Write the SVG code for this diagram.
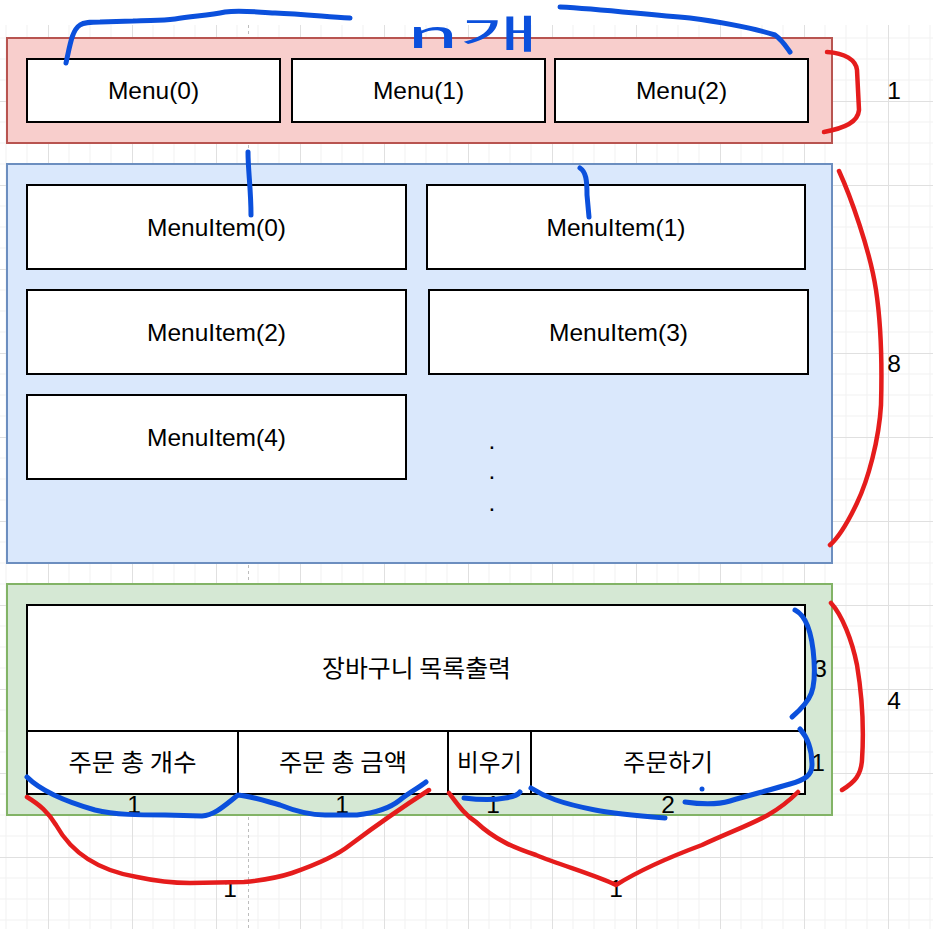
<svg xmlns="http://www.w3.org/2000/svg" width="933" height="929" viewBox="0 0 933 929">
<defs>
  <pattern id="grid" patternUnits="userSpaceOnUse" x="48" y="17" width="84" height="84">
    <path d="M21,0V84M42,0V84M63,0V84M0,21H84M0,42H84M0,63H84" stroke="#f1f1f1" stroke-width="1" fill="none"/>
    <path d="M0.5,0V84M0,0.5H84" stroke="#e0e0e0" stroke-width="1" fill="none"/>
  </pattern>
  <style>
    .box{fill:#ffffff;stroke:#000000;stroke-width:2}
    .lbl{font-family:"Liberation Sans",Arial,sans-serif;font-size:24.5px;fill:#000000;text-anchor:middle}
    .kr{font-family:"Noto Sans CJK KR","Liberation Sans",sans-serif;font-size:24px;fill:#000000;text-anchor:middle}
    .blue{fill:none;stroke:#0b50dc;stroke-width:5;stroke-linecap:round;stroke-linejoin:round}
    .red{fill:none;stroke:#e51c1c;stroke-width:4.5;stroke-linecap:round;stroke-linejoin:round}
  </style>
</defs>
<rect x="0" y="0" width="933" height="929" fill="#ffffff"/>
<rect x="0" y="25" width="933" height="904" fill="url(#grid)"/>
<line x1="248.5" y1="25" x2="248.5" y2="929" stroke="#bdbdbd" stroke-width="1" stroke-dasharray="3,3"/>

<g id="menu-container">
  <rect x="7" y="38" width="825" height="105" fill="#f8cecc" stroke="#b85450" stroke-width="2"/>
</g>
<g id="menu0"><rect class="box" x="27" y="59" width="253" height="63"/><text class="lbl" x="153.5" y="99">Menu(0)</text></g>
<g id="menu1"><rect class="box" x="292" y="59" width="253" height="63"/><text class="lbl" x="418.5" y="99">Menu(1)</text></g>
<g id="menu2"><rect class="box" x="555" y="59" width="253" height="63"/><text class="lbl" x="681.5" y="99">Menu(2)</text></g>

<g id="item-container">
  <rect x="7" y="164" width="825" height="399" fill="#dae8fc" stroke="#6c8ebf" stroke-width="2"/>
</g>
<g id="item0"><rect class="box" x="27" y="185" width="379" height="84"/><text class="lbl" x="216.5" y="235.5">MenuItem(0)</text></g>
<g id="item1"><rect class="box" x="427" y="185" width="378" height="84"/><text class="lbl" x="616" y="235.5">MenuItem(1)</text></g>
<g id="item2"><rect class="box" x="27" y="290" width="379" height="84"/><text class="lbl" x="216.5" y="340.5">MenuItem(2)</text></g>
<g id="item3"><rect class="box" x="429" y="290" width="379" height="84"/><text class="lbl" x="618.5" y="340.5">MenuItem(3)</text></g>
<g id="item4"><rect class="box" x="27" y="395" width="379" height="84"/><text class="lbl" x="216.5" y="445.5">MenuItem(4)</text></g>
<g id="dots">
  <text class="lbl" x="492" y="449">.</text>
  <text class="lbl" x="492" y="479">.</text>
  <text class="lbl" x="492" y="511">.</text>
</g>

<g id="cart-container">
  <rect x="7" y="584" width="825" height="231" fill="#d5e8d4" stroke="#82b366" stroke-width="2"/>
</g>
<g id="cart-list"><rect class="box" x="27" y="605" width="778" height="126"/><text class="kr" x="416.5" y="677" textLength="189" lengthAdjust="spacingAndGlyphs">장바구니 목록출력</text></g>
<g id="total-count"><rect class="box" x="27" y="731" width="211" height="63"/><text class="kr" x="132.5" y="771" textLength="128" lengthAdjust="spacingAndGlyphs">주문 총 개수</text></g>
<g id="total-price"><rect class="box" x="238" y="731" width="210" height="63"/><text class="kr" x="343" y="771" textLength="128" lengthAdjust="spacingAndGlyphs">주문 총 금액</text></g>
<g id="clear"><rect class="box" x="448" y="731" width="83" height="63"/><text class="kr" x="489.5" y="771" textLength="65" lengthAdjust="spacingAndGlyphs">비우기</text></g>
<g id="order"><rect class="box" x="531" y="731" width="274" height="63"/><text class="kr" x="668" y="771" textLength="90" lengthAdjust="spacingAndGlyphs">주문하기</text></g>

<g id="labels">
  <text class="lbl" x="894" y="99">1</text>
  <text class="lbl" x="894" y="372">8</text>
  <text class="lbl" x="894" y="709">4</text>
  <text class="lbl" x="820" y="677">3</text>
  <text class="lbl" x="818" y="771">1</text>
  <text class="lbl" x="134" y="813">1</text>
  <text class="lbl" x="342" y="813">1</text>
  <text class="lbl" x="493" y="813">1</text>
  <text class="lbl" x="668" y="813">2</text>
  <text class="lbl" x="230" y="897">1</text>
  <text class="lbl" x="616" y="897">1</text>
</g>

<g id="annotations">
  <path class="blue" d="M66,63 C70,45 72,30 80,25 C84,22 90,22 100,22 L133,21 C150,20 160,21 175,19 C195,16 210,15 225,12 C240,10 255,12 275,13 C300,14 320,16 350,18"/>
  <text x="406" y="48" textLength="134" lengthAdjust="spacingAndGlyphs" font-family="'Noto Sans CJK KR','Liberation Sans',sans-serif" font-size="39" fill="#0b50dc">n개</text>
  <path class="blue" d="M560,7 C600,9 640,14 690,18 C720,22 750,27 775,35 C782,40 785,45 790,52"/>
  <path class="blue" d="M248,152 C248,170 251,190 251,215"/>
  <path class="blue" d="M580,168 C586,172 587,180 587,195 L589,217"/>
  <path class="red" d="M827,52 C845,53 856,60 857,70 L859,110 C858,122 845,128 824,132"/>
  <path class="red" d="M839,171 C850,195 870,250 876,290 C882,330 882,370 881,405 C879,440 868,480 857,503 C848,522 838,538 830,545"/>
  <path class="red" d="M831,603 C842,615 852,640 857,665 C862,695 864,730 862,760 C861,775 855,782 842,790"/>
  <path class="blue" d="M795,610 C805,615 812,630 814,660 C816,690 812,700 792,717"/>
  <path class="blue" d="M800,729 C808,738 812,750 812,765 C812,775 805,780 790,784 C770,790 750,795 730,801 C720,804 705,805 685,802"/>
  <circle cx="702" cy="789" r="2.5" fill="#0b50dc"/>
  <path class="blue" d="M531,788 C545,797 560,803 595,810 C615,814 640,816 665,818"/>
  <path class="blue" d="M464,798 C480,800 495,800 505,798 C512,797 518,795 520,792"/>
  <path class="blue" d="M27,777 C40,790 60,800 95,810 C115,815 140,815 165,815 L202,816 C215,815 225,805 238,795 C250,796 262,800 280,805 C295,811 310,815 325,815 L357,815 C375,813 390,808 400,800 C410,792 420,787 426,782"/>
  <path class="red" d="M27,797 C40,805 48,812 56,825 C70,850 95,870 137,877 C160,882 175,883 190,883 L244,882 C265,880 280,877 292,873 C315,865 335,857 350,845 C370,830 390,815 429,790"/>
  <path class="red" d="M449,793 C458,805 465,815 476,822 C495,840 515,848 536,855 C560,865 595,875 616,885 C640,870 675,855 702,845 C730,832 750,825 768,815 C780,808 790,800 798,792"/>
</g>
</svg>
